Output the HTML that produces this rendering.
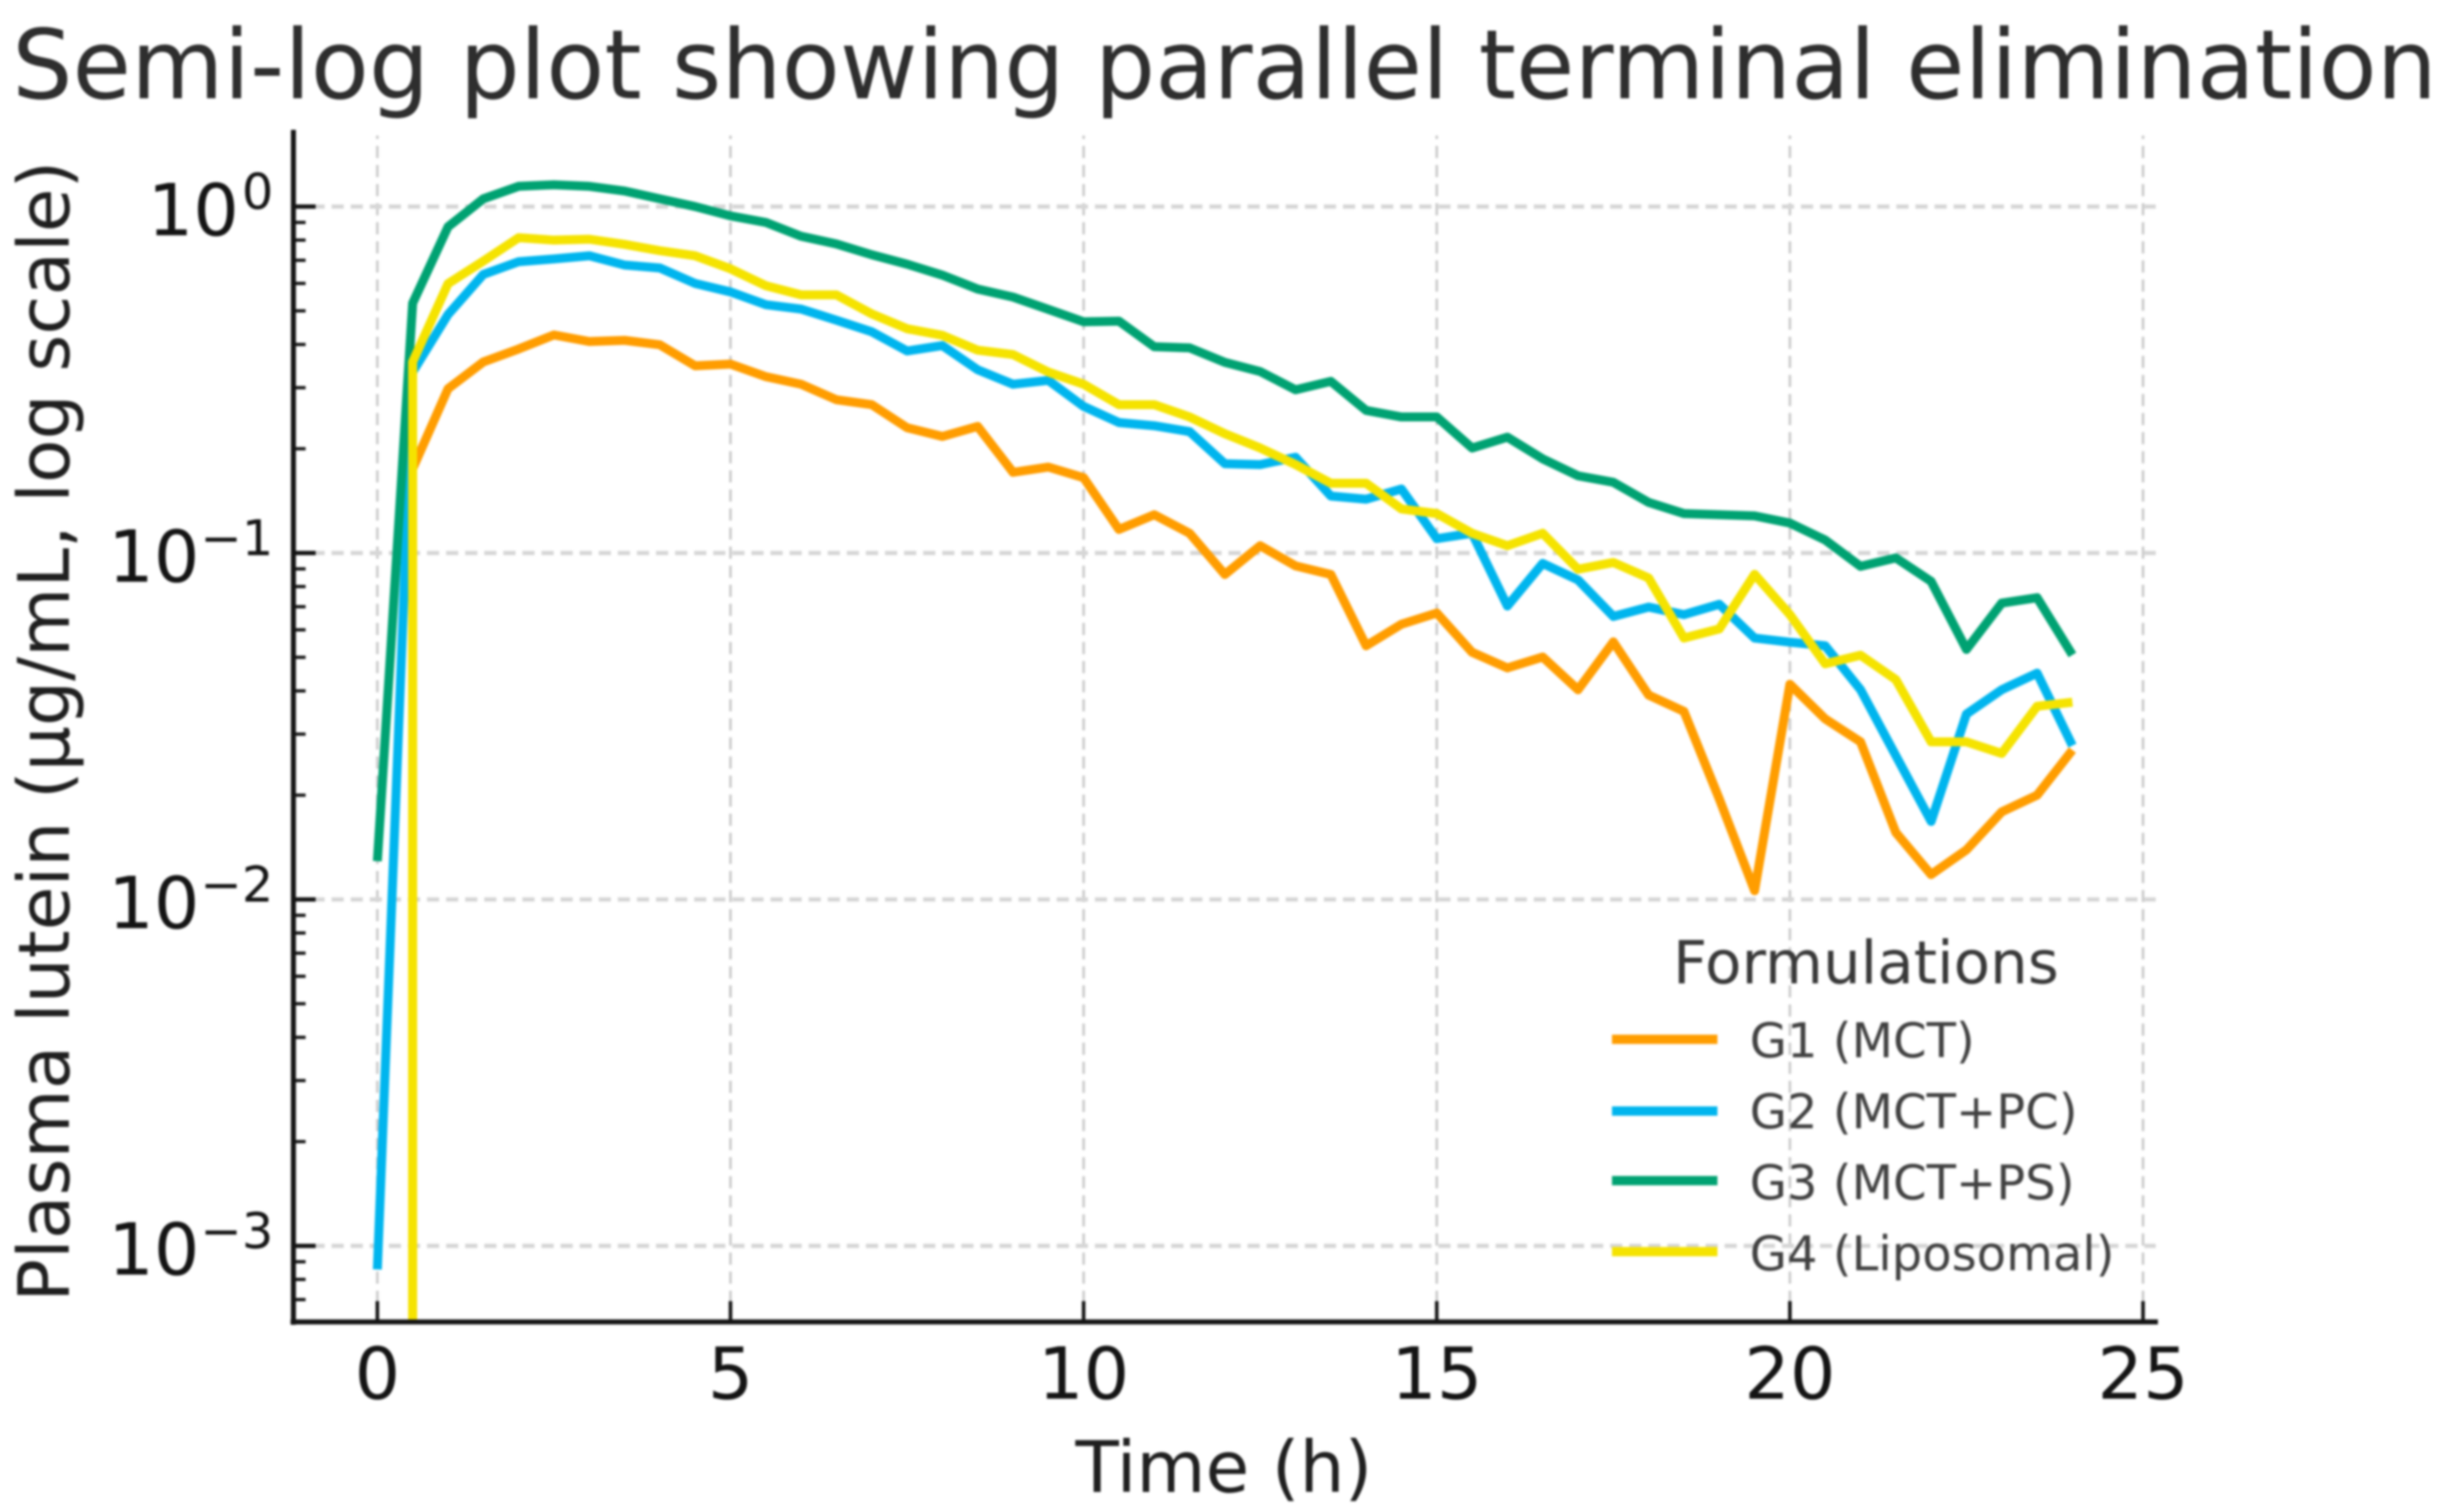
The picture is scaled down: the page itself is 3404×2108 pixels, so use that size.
<!DOCTYPE html>
<html lang="en">
<head>
<meta charset="utf-8">
<title>Semi-log plot showing parallel terminal elimination</title>
<style>
  html, body { margin: 0; padding: 0; background: #fff; }
  body { width: 3404px; height: 2108px; overflow: hidden; }
  #chart { display: block; filter: blur(1.6px); font-family: "DejaVu Sans", "Liberation Sans", sans-serif; }
</style>
</head>
<body>
<svg id="chart" xmlns="http://www.w3.org/2000/svg" width="3404" height="2108" viewBox="0 0 3404 2108">
  <defs>
    <clipPath id="plot-clip"><rect x="408" y="181" width="2600" height="1662"></rect></clipPath>
  </defs>
  <rect x="0" y="0" width="3404" height="2108" fill="#ffffff"></rect>

  <g id="grid"></g>
  <g id="series" clip-path="url(#plot-clip)"></g>
  <g id="ticks"></g>
  <line x1="409" y1="181" x2="409" y2="1847" stroke="#141414" stroke-width="7"></line>
  <line x1="405" y1="1843" x2="3008" y2="1843" stroke="#141414" stroke-width="7"></line>
  <g id="tick-labels"></g>

  <text x="17" y="137" font-size="134" fill="#2e2e2e" textLength="3380" lengthAdjust="spacingAndGlyphs">Semi-log plot showing parallel terminal elimination</text>
  <text x="1706" y="2080" font-size="99" fill="#1f1f1f" text-anchor="middle">Time (h)</text>
  <text transform="translate(96,1815) rotate(-90)" font-size="99" fill="#1f1f1f" textLength="1591" lengthAdjust="spacingAndGlyphs">Plasma lutein (µg/mL, log scale)</text>

  <g>
    <text x="2332" y="1371" font-size="83" fill="#383838">Formulations</text>
    <line x1="2247" y1="1449" x2="2394" y2="1449" stroke="#FF9D00" stroke-width="13"></line>
    <text x="2439" y="1474" font-size="67" fill="#404040">G1 (MCT)</text>
    <line x1="2247" y1="1549" x2="2394" y2="1549" stroke="#00B5EE" stroke-width="13"></line>
    <text x="2439" y="1573" font-size="67" fill="#404040">G2 (MCT+PC)</text>
    <line x1="2247" y1="1646" x2="2394" y2="1646" stroke="#00A272" stroke-width="13"></line>
    <text x="2439" y="1672" font-size="67" fill="#404040">G3 (MCT+PS)</text>
    <line x1="2247" y1="1745" x2="2394" y2="1745" stroke="#F5E300" stroke-width="13"></line>
    <text x="2439" y="1771" font-size="67" fill="#404040">G4 (Liposomal)</text>
  </g>
</svg>
<script>
const times = [0,0.5,1,1.5,2,2.5,3,3.5,4,4.5,5,5.5,6,6.5,7,7.5,8,8.5,9,9.5,10,10.5,11,11.5,12,12.5,13,13.5,14,14.5,15,15.5,16,16.5,17,17.5,18,18.5,19,19.5,20,20.5,21,21.5,22,22.5,23,23.5,24];

const g1Values = [0,0.175,0.298,0.356,0.388,0.426,0.408,0.411,0.399,0.347,0.351,0.323,0.307,0.277,0.268,0.23,0.217,0.232,0.171,0.177,0.165,0.117,0.129,0.114,0.0867,0.105,0.0918,0.0867,0.054,0.0623,0.0671,0.0517,0.0466,0.0501,0.0403,0.0554,0.0389,0.0349,0.0195,0.0106,0.0418,0.0332,0.0285,0.0156,0.0118,0.0139,0.0179,0.02,0.027];
const g2Values = [0.000855,0.333,0.488,0.637,0.693,0.706,0.721,0.678,0.665,0.6,0.567,0.521,0.506,0.47,0.435,0.383,0.397,0.338,0.307,0.315,0.265,0.238,0.233,0.224,0.181,0.18,0.189,0.146,0.143,0.153,0.11,0.114,0.0703,0.0933,0.0836,0.0656,0.0698,0.0664,0.0711,0.0568,0.0553,0.054,0.0403,0.026,0.0168,0.0343,0.0403,0.045,0.0278];
const g3Values = [0.0129,0.526,0.874,1.053,1.144,1.156,1.144,1.109,1.053,1.0,0.94,0.9,0.821,0.78,0.726,0.682,0.634,0.578,0.548,0.505,0.465,0.467,0.394,0.391,0.355,0.334,0.296,0.313,0.258,0.247,0.247,0.201,0.216,0.187,0.167,0.16,0.14,0.13,0.129,0.128,0.122,0.109,0.0915,0.0968,0.0828,0.0527,0.0717,0.0743,0.0508];
const g4Values = [0,0.356,0.599,0.696,0.813,0.8,0.805,0.778,0.746,0.721,0.661,0.591,0.556,0.556,0.49,0.444,0.425,0.385,0.374,0.333,0.307,0.268,0.268,0.247,0.221,0.201,0.18,0.159,0.159,0.134,0.13,0.114,0.105,0.114,0.0898,0.0939,0.0847,0.0568,0.0604,0.0868,0.0664,0.0479,0.0507,0.0431,0.0285,0.0285,0.0264,0.0361,0.0371];

const seriesNames = ['G1 (MCT)','G2 (MCT+PC)','G3 (MCT+PS)','G4 (Liposomal)'];
const xTickValues = [0,5,10,15,20,25];
const yTickValues = [1,0.1,0.01,0.001];
const yTickExponents = ['0','\u22121','\u22122','\u22123'];
const yMinorDecades = [0.0001,0.001,0.01,0.1,1];
const yMinorMultipliers = [2,3,4,5,6,7,8,9];

const NS = 'http://www.w3.org/2000/svg';
const PLOT_LEFT = 409, PLOT_RIGHT = 3008, PLOT_TOP = 181, PLOT_BOTTOM = 1843;
function xScale(t) { return 526 + t * 98.45; }
function yScale(v) { return 288 - 483 * Math.log10(v); }

function make(tag, attrs, parent) {
  const el = document.createElementNS(NS, tag);
  for (const k in attrs) el.setAttribute(k, attrs[k]);
  parent.appendChild(el);
  return el;
}

const gridG = document.getElementById('grid');
const ticksG = document.getElementById('ticks');
const labelsG = document.getElementById('tick-labels');
const seriesG = document.getElementById('series');

xTickValues.forEach(function (t) {
  const x = xScale(t);
  const g = make('line', {x1:x, y1:PLOT_BOTTOM, x2:x, y2:PLOT_TOP + 8, stroke:'#c9c9c9', 'stroke-width':3.5, 'stroke-dasharray':'17 9.6'}, gridG);
  
  
  const tick = make('line', {x1:x, y1:PLOT_BOTTOM, x2:x, y2:PLOT_BOTTOM - 29, stroke:'#141414', 'stroke-width':5}, ticksG);
  
  
  const label = make('text', {x:x, y:1950, 'font-size':100, fill:'#141414', 'text-anchor':'middle'}, labelsG);
  label.textContent = String(t);
  
  
});

yTickValues.forEach(function (v, i) {
  const y = yScale(v);
  const g = make('line', {x1:PLOT_LEFT, y1:y, x2:PLOT_RIGHT - 3, y2:y, stroke:'#d6d6d6', 'stroke-width':6, 'stroke-dasharray':'17 9.6'}, gridG);
  
  
  const tick = make('line', {x1:PLOT_LEFT, y1:y, x2:PLOT_LEFT + 31, y2:y, stroke:'#141414', 'stroke-width':6}, ticksG);
  
  
  const baseEnd = i === 0 ? 333 : 278;
  const base = make('text', {x:baseEnd, y:y + 40, 'font-size':100, fill:'#141414', 'text-anchor':'end'}, labelsG);
  base.textContent = '10';
  
  
  const sup = make('text', {x:381, y:y + 3, 'font-size':69, fill:'#141414', 'text-anchor':'end'}, labelsG);
  sup.textContent = yTickExponents[i];
  
  
});

yMinorDecades.forEach(function (d) {
  yMinorMultipliers.forEach(function (m) {
    const y = yScale(d * m);
    if (y < PLOT_TOP || y > PLOT_BOTTOM - 4) return;
    const tick = make('line', {x1:PLOT_LEFT, y1:y, x2:PLOT_LEFT + 17, y2:y, stroke:'#141414', 'stroke-width':4.5}, ticksG);
    
    
  });
});

function linePoints(values) {
  const pts = [];
  values.forEach(function (v, i) {
    if (v > 0) {
      pts.push(xScale(times[i]).toFixed(1) + ',' + yScale(v).toFixed(1));
    } else if (i + 1 < times.length) {
      // Non-positive value on a log axis: the segment drops straight off the bottom of the plot.
      pts.push(xScale(times[i + 1]).toFixed(1) + ',' + (PLOT_BOTTOM + 40));
    }
  });
  return pts.join(' ');
}

const g1Line = make('polyline', {points:linePoints(g1Values), fill:'none', stroke:'#FF9D00', 'stroke-width':12.5, 'stroke-linejoin':'round'}, seriesG);


const g2Line = make('polyline', {points:linePoints(g2Values), fill:'none', stroke:'#00B5EE', 'stroke-width':12.5, 'stroke-linejoin':'round'}, seriesG);


const g3Line = make('polyline', {points:linePoints(g3Values), fill:'none', stroke:'#00A272', 'stroke-width':12.5, 'stroke-linejoin':'round'}, seriesG);


const g4Line = make('polyline', {points:linePoints(g4Values), fill:'none', stroke:'#F5E300', 'stroke-width':12.5, 'stroke-linejoin':'round'}, seriesG);


</script>
</body>
</html>
